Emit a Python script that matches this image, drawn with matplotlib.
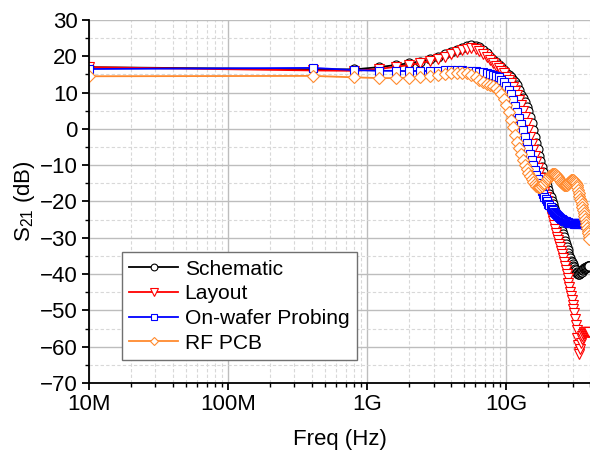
import numpy as np
import matplotlib
matplotlib.use("Agg")
import matplotlib.pyplot as plt
from matplotlib.ticker import FixedLocator, NullFormatter, MultipleLocator

plt.rcParams['font.family'] = ['Liberation Sans', 'DejaVu Sans']
plt.rcParams['mathtext.default'] = 'regular'

# Sweep frequencies (GHz), 400 MHz step from 10 MHz
freq_ghz = np.linspace(0.01, 39.61, 100)

schematic = [
    17.0, 16.4, 16.4, 17.0, 17.6, 18.1, 18.5, 19.2, 19.8, 20.5,
    21.1, 21.7, 22.2, 22.7, 23.0, 22.9, 22.5, 21.7, 20.9, 19.9,
    19.0, 18.3, 17.6, 17.0, 16.2, 15.5, 14.9, 14.2, 13.6, 13.0,
    12.0, 10.6, 9.4, 8.4, 7.4, 6.0, 4.8, 3.4, 1.6, -0.3,
    -2.1, -3.8, -5.6, -7.4, -8.9, -10.4, -11.8, -13.3, -14.8, -15.8,
    -16.9, -17.8, -18.8, -19.8, -20.8, -21.8, -22.7, -23.6, -24.4, -25.2,
    -25.8, -26.5, -27.3, -28.1, -29.0, -29.9, -30.8, -31.7, -32.6, -33.4,
    -34.2, -35.0, -35.7, -36.3, -36.8, -37.3, -37.7, -38.1, -38.5, -38.9,
    -39.3, -39.6, -39.9, -40.0, -39.9, -39.7, -39.5, -39.3, -39.0, -38.8,
    -38.6, -38.4, -38.3, -38.2, -38.1, -38.0, -37.9, -37.8, -37.8, -37.8,
]

layout = [
    17.0, 16.1, 16.0, 16.5, 17.1, 17.6, 18.1, 18.7, 19.3, 19.9,
    20.6, 21.2, 21.7, 22.1, 22.3, 22.0, 21.4, 20.6, 19.8, 18.9,
    18.1, 17.4, 16.7, 16.0, 15.3, 14.4, 13.5, 12.6, 11.6, 10.5,
    9.3, 7.9, 6.5, 5.0, 3.4, 1.6, -0.3, -2.2, -4.1, -5.9,
    -7.6, -9.2, -10.7, -12.2, -13.6, -15.0, -16.3, -17.5, -18.7, -19.9,
    -21.0, -22.2, -23.3, -24.4, -25.5, -26.6, -27.6, -28.6, -29.7, -30.7,
    -31.7, -32.6, -33.6, -34.6, -35.6, -36.7, -37.8, -38.9, -40.0, -41.2,
    -42.4, -43.6, -44.8, -46.0, -47.2, -48.4, -49.6, -50.8, -52.3, -53.9,
    -55.5, -57.5, -59.5, -61.5, -62.0, -60.5, -59.0, -57.8, -57.0, -56.5,
    -56.2, -56.0, -56.0, -56.0, -56.0, -56.0, -56.0, -56.0, -56.0, -56.0,
]

on_wafer = [
    16.5, 16.8, 16.2, 16.0, 16.0, 15.9, 16.0, 15.9, 16.0, 16.1,
    16.2, 16.2, 16.1, 16.0, 16.0, 15.9, 15.8, 15.6, 15.4, 15.2,
    14.9, 14.6, 14.2, 13.6, 12.9, 11.9, 10.8, 9.5, 8.0, 6.4,
    4.7, 3.0, 1.3, -0.4, -2.1, -3.8, -5.4, -7.0, -8.5, -10.0,
    -11.4, -12.7, -13.9, -15.0, -16.0, -17.0, -17.9, -18.7, -19.4, -20.0,
    -20.6, -21.1, -21.6, -22.0, -22.4, -22.8, -23.1, -23.4, -23.7, -24.0,
    -24.2, -24.5, -24.7, -24.9, -25.1, -25.3, -25.4, -25.5, -25.6, -25.7,
    -25.8, -25.8, -25.9, -25.9, -26.0, -26.0, -26.0, -26.1, -26.1, -26.1,
    -26.0, -26.0, -25.9, -25.9, -25.8, -25.9, -26.0, -26.1, -26.2, -26.2,
    -26.3, -26.3, -26.4, -26.4, -26.5, -26.5, -26.6, -26.6, -26.7, -26.7,
]

rf_pcb = [
    14.5, 14.6, 14.2, 14.0, 14.0, 14.1, 14.3, 14.6, 14.9, 15.2,
    15.4, 15.5, 15.5, 15.3, 14.9, 14.3, 13.6, 13.0, 12.5, 12.1,
    11.7, 11.2, 10.5, 9.5, 8.2, 6.5, 4.6, 2.5, 0.4, -1.6,
    -3.5, -5.3, -7.0, -8.5, -9.9, -11.1, -12.2, -13.1, -13.9, -14.6,
    -15.2, -15.7, -16.0, -16.1, -16.0, -15.7, -15.3, -14.8, -14.3, -13.8,
    -13.4, -13.0, -12.7, -12.5, -12.4, -12.4, -12.5, -12.7, -13.0, -13.3,
    -13.7, -14.1, -14.5, -14.9, -15.2, -15.4, -15.5, -15.5, -15.4, -15.2,
    -14.9, -14.6, -14.3, -14.1, -14.0, -14.0, -14.1, -14.3, -14.6, -15.0,
    -15.5, -16.1, -16.8, -17.6, -18.4, -19.2, -20.0, -20.8, -21.6, -22.4,
    -23.2, -24.0, -24.8, -25.6, -26.4, -27.2, -28.0, -28.8, -29.5, -30.2,
]

series_names = ["Schematic", "Layout", "On-wafer Probing", "RF PCB"]
series_data = [schematic, layout, on_wafer, rf_pcb]
series_colors = ["#000000", "#FF0000", "#0000FF", "#FF8A2E"]
series_markers = ["o", "v", "s", "D"]
series_msize = [6.5, 7.0, 6.0, 6.0]

x_tick_vals = [1e7, 1e8, 1e9, 1e10]
x_tick_labels = ["10M", "100M", "1G", "10G"]

fig = plt.figure(figsize=(5.9, 4.57), dpi=100)
ax = fig.add_axes([89/590, 1 - 383/457, (590 - 89)/590, (383 - 20)/457])

freq_hz = freq_ghz * 1e9
for name, data, col, mk, ms in zip(series_names, series_data, series_colors,
                                   series_markers, series_msize):
    ax.plot(freq_hz, data, color=col, lw=1.3, marker=mk, markersize=ms,
            markerfacecolor='white', markeredgecolor=col, markeredgewidth=0.8,
            label=name)

ax.set_xscale('log')
ax.set_xlim(1e7, 4e10)
ax.set_ylim(-70, 30)

ax.xaxis.set_major_locator(FixedLocator(x_tick_vals))
ax.set_xticklabels(x_tick_labels)
minor = [m * 10**e for e in range(7, 11) for m in range(2, 10) if m * 10**e <= 4e10]
ax.xaxis.set_minor_locator(FixedLocator(minor))
ax.xaxis.set_minor_formatter(NullFormatter())
ax.yaxis.set_major_locator(MultipleLocator(10))
ax.yaxis.set_minor_locator(MultipleLocator(5))

ax.grid(which='major', color='#bdbdbd', lw=1.0, ls='-')
ax.grid(which='minor', color='#d8d8d8', lw=0.8, ls=(0, (3, 2)))
ax.set_axisbelow(True)

for s in ['top', 'right']:
    ax.spines[s].set_visible(False)
for s in ['left', 'bottom']:
    ax.spines[s].set_linewidth(1.3)
    ax.spines[s].set_color('black')

ax.tick_params(which='major', direction='out', length=5, width=1.3,
               labelsize=16, pad=3)
ax.tick_params(which='minor', direction='out', length=3, width=1.0)

ax.set_xlabel('Freq (Hz)', fontsize=16, labelpad=10)
ax.set_ylabel('S$_{21}$ (dB)', fontsize=16, labelpad=2)

leg = ax.legend(loc='upper left', bbox_to_anchor=(0.066, 0.36), fontsize=15.1,
                frameon=True, fancybox=False, edgecolor='#707070',
                framealpha=1, handlelength=2.33, handletextpad=0.3,
                labelspacing=0.27, borderpad=0.35, borderaxespad=0,
                markerscale=0.75)
leg.get_frame().set_linewidth(1.0)

fig.savefig('out.png', dpi=100)
